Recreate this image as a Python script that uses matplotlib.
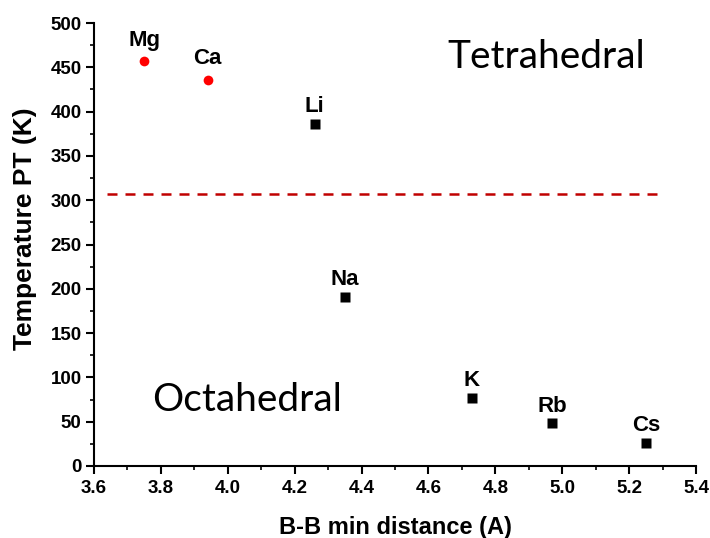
import matplotlib
matplotlib.use("Agg")
import matplotlib.pyplot as plt
from matplotlib.ticker import MultipleLocator, FormatStrFormatter

# B-B minimum distance (A) and phase-transition temperature (K)
tetra_elements = ["Mg", "Ca"]
tetra_dist = [3.75, 3.94]
tetra_temp = [457, 436]

octa_elements = ["Li", "Na", "K", "Rb", "Cs"]
octa_dist = [4.26, 4.35, 4.73, 4.97, 5.25]
octa_temp = [386, 191, 77, 48, 26]

boundary_temp = 307
boundary_span = [3.64, 5.30]

plt.rcParams["font.family"] = ["Liberation Sans", "DejaVu Sans"]

fig = plt.figure(figsize=(7.10, 5.38), dpi=100)
ax = fig.add_axes([94 / 710, 1 - 466 / 538, (696 - 94) / 710, (466 - 23) / 538])

ax.plot(boundary_span, [boundary_temp, boundary_temp], color="#c00000",
        lw=1.8, linestyle=(0, (4, 3.2)), zorder=1)

ax.plot(tetra_dist, tetra_temp, "o", color="#ff0000", ms=7, mec="none", zorder=3)
ax.plot(octa_dist, octa_temp, "s", color="black", ms=6.7, mec="none", zorder=3)

for name, x, y in zip(tetra_elements, tetra_dist, tetra_temp):
    ax.annotate(name, (x, y), xytext=(0, 11), textcoords="offset points",
                ha="center", va="baseline", fontsize=16, fontweight="bold")
for name, x, y in zip(octa_elements, octa_dist, octa_temp):
    ax.annotate(name, (x, y), xytext=(0, 8.5), textcoords="offset points",
                ha="center", va="baseline", fontsize=16, fontweight="bold")

ax.text(4.952, 462, "Tetrahedral", fontsize=28, family="Lato",
        ha="center", va="center")
ax.text(4.058, 74, "Octahedral", fontsize=28, family="Lato",
        ha="center", va="center")

ax.set_xlim(3.6, 5.4)
ax.set_ylim(0, 500)
ax.xaxis.set_major_locator(MultipleLocator(0.2))
ax.xaxis.set_minor_locator(MultipleLocator(0.1))
ax.yaxis.set_major_locator(MultipleLocator(50))
ax.yaxis.set_minor_locator(MultipleLocator(25))
ax.xaxis.set_major_formatter(FormatStrFormatter("%.1f"))

for side in ("top", "right"):
    ax.spines[side].set_visible(False)
for side in ("left", "bottom"):
    ax.spines[side].set_linewidth(1.5)

ax.tick_params(which="major", direction="out", length=6, width=1.5,
               labelsize=13.5)
ax.tick_params(axis="y", which="major", pad=3)
ax.tick_params(axis="x", which="major", pad=4)
ax.tick_params(which="minor", direction="out", length=3, width=1.2)
for lbl in ax.get_xticklabels() + ax.get_yticklabels():
    lbl.set_fontweight("bold")

ax.set_xlabel("B-B min distance (A)", fontsize=17, fontweight="bold", labelpad=14)
ax.set_ylabel("Temperature PT (K)", fontsize=19, fontweight="bold")
ax.yaxis.set_label_coords(-0.094, 0.535)

fig.savefig("out.png", dpi=100)
